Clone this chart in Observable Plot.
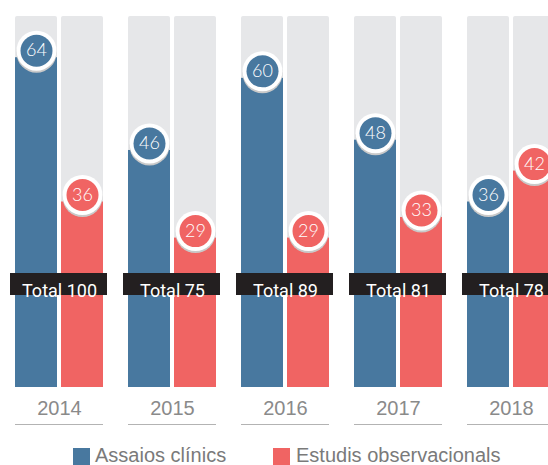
<!DOCTYPE html>
<html>
<head>
<meta charset="utf-8">
<script src="https://cdn.jsdelivr.net/npm/d3@7"></script>
<script src="https://cdn.jsdelivr.net/npm/@observablehq/plot@0.6"></script>
<style>
  html, body { margin: 0; padding: 0; background: #fff; overflow: hidden; }
  #chart svg { display: block; }
  .legend { position: relative; height: 24px; margin-top: 5px; font-family: "Liberation Sans", Arial, sans-serif; font-size: 20px; line-height: 20px; color: #7a7a7a; }
  .legend .sw { position: absolute; top: 3px; width: 17px; height: 17px; }
  .legend .lb { position: absolute; top: 0; white-space: nowrap; }
</style>
</head>
<body>
<div id="chart"></div>
<div class="legend" id="legend"></div>
<script>
const years = ["2014", "2015", "2016", "2017", "2018"];
const series = ["Assaios clínics", "Estudis observacionals"];
const assaigs = [64, 46, 60, 48, 36];
const estudis = [36, 29, 29, 33, 42];
const totals = [100, 75, 89, 81, 78];
const colors = ["#48789f", "#f06463"];
const yMax = 72;

const rows = [];
years.forEach((year, i) => {
  rows.push({year, series: series[0], value: assaigs[i]});
  rows.push({year, series: series[1], value: estudis[i]});
});
const totalRows = years.map((year, i) => ({year, total: totals[i]}));

const plot = Plot.plot({
  width: 548,
  height: 440,
  marginLeft: 14,
  marginRight: -7,
  marginTop: 16,
  marginBottom: 16,
  insetBottom: 37,
  fx: {domain: years, paddingInner: 0.223, paddingOuter: 0, axis: null, label: null},
  x: {domain: series, paddingInner: 0.087, paddingOuter: 0, axis: null},
  y: {domain: [0, yMax], axis: null},
  color: {domain: series, range: colors},
  style: {background: "white"},
  marks: [
    Plot.barY(rows, {fx: "year", x: "series", y: () => yMax, fill: "#e6e7e9", rx: 2}),
    Plot.barY(rows, {fx: "year", x: "series", y: "value", fill: "series"}),
    Plot.rect(totalRows, {fx: "year", fill: "#231f20", insetLeft: -5, insetRight: -4, insetTop: 257, insetBottom: 129}),
    Plot.text(totalRows, {fx: "year", text: d => "Total " + d.total, frameAnchor: "top", dy: 268, fill: "white", fontSize: 18, fontFamily: "Roboto, sans-serif"}),
    Plot.dot(rows, {fx: "year", x: "series", y: "value", r: 20, fill: "#c9c9c9", stroke: null, dy: -5}),
    Plot.dot(rows, {fx: "year", x: "series", y: "value", r: 20, fill: "white", stroke: null, dy: -7}),
    Plot.dot(rows, {fx: "year", x: "series", y: "value", r: 16, fill: "series", stroke: null, dy: -7}),
    Plot.text(rows, {fx: "year", x: "series", y: "value", text: d => String(d.value), dy: -7, fill: "white", fontSize: 18, fontWeight: 300, fontFamily: "Lato, sans-serif"}),
    Plot.text(years, {fx: d => d, text: d => d, frameAnchor: "bottom", dy: -10, fill: "#8a8a8a", fontSize: 20, fontFamily: "Liberation Sans, Arial, sans-serif"}),
    Plot.ruleY([0], {dy: 37, stroke: "#b3b3b3", strokeWidth: 1})
  ]
});
document.getElementById("chart").appendChild(plot);

const legend = document.getElementById("legend");
const legendPos = [[73, 95], [273, 296]];
series.forEach((s, i) => {
  const sw = document.createElement("div");
  sw.className = "sw";
  sw.style.left = legendPos[i][0] + "px";
  sw.style.background = colors[i];
  const lb = document.createElement("div");
  lb.className = "lb";
  lb.style.left = legendPos[i][1] + "px";
  lb.textContent = s;
  legend.appendChild(sw);
  legend.appendChild(lb);
});
</script>
</body>
</html>
